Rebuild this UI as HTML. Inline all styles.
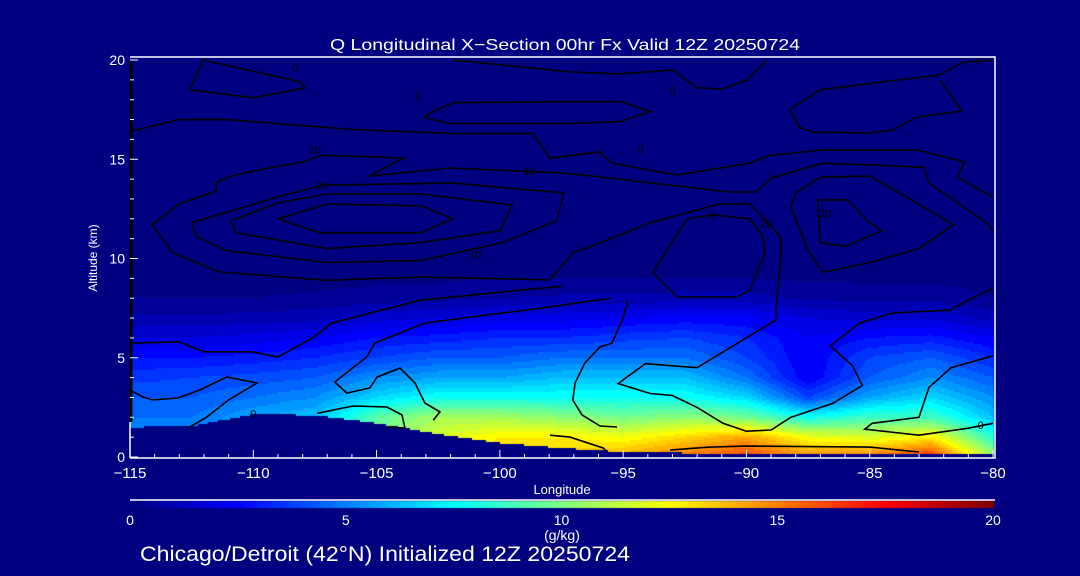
<!DOCTYPE html>
<html><head><meta charset="utf-8">
<style>
html,body{margin:0;padding:0;background:#000080;}
#wrap{position:relative;width:1080px;height:576px;background:#000080;overflow:hidden;font-family:"Liberation Sans",sans-serif;color:#fff;}
canvas{position:absolute;left:0;top:0;}
svg{position:absolute;left:0;top:0;}
</style></head>
<body>
<div id="wrap">
<canvas id="cv" width="1080" height="576"></canvas>
<svg id="sv" width="1080" height="576"></svg>
</div>
<script>
// ---- data ----
const lons = [-115,-112.5,-110,-107.5,-105,-102.5,-100,-97.5,-95,-92.5,-90,-87.5,-85,-82.5,-80];
const levels = [0,1,2,3,4,5,6,7,8,9,10,20];
const q_m115 = [5,5,5,4.5,3.8,3,2,1.1,0.5,0.3,0.2,0];
const q_m1125 = [5,5,5,4.5,4,3,2,1.1,0.5,0.3,0.2,0];
const q_m110 = [6,6,6,5,4.2,3.2,2.2,1.2,0.5,0.3,0.2,0];
const q_m1075 = [6.5,6.5,6.5,5.5,4.5,3.5,2.5,1.3,0.6,0.3,0.2,0];
const q_m105 = [10,10,9.5,7,5.5,4,3,1.8,0.7,0.4,0.2,0];
const q_m1025 = [12.5,12,11,8,6,4.5,3.2,2,0.8,0.4,0.2,0];
const q_m100 = [13.5,13,11,8,6,4.5,3.5,2.2,1,0.5,0.2,0];
const q_m975 = [14,13,10.5,8,6.5,5,3.5,2.3,1.1,0.5,0.2,0];
const q_m95 = [14.5,12.5,10,8,6.5,5,3.8,2.5,1.1,0.5,0.2,0];
const q_m925 = [15.5,13.5,10.5,8,6.5,5,4,2.7,1.2,0.5,0.2,0];
const q_m90 = [16.5,14.5,10,7,5,4,3.5,2.6,1.2,0.5,0.2,0];
const q_m875 = [15,12.5,8,4,2.5,2.5,2.5,2,0.9,0.4,0.2,0];
const q_m85 = [15.5,12,9,6,4.5,4,3,1.8,0.8,0.4,0.2,0];
const q_m825 = [17,13,9,7,5.5,4.5,3.2,1.9,0.8,0.4,0.2,0];
const q_m80 = [11,8.5,6.5,5.5,4.5,3.5,2.5,1.3,0.5,0.3,0.2,0];
const qGrid = [q_m115,q_m1125,q_m110,q_m1075,q_m105,q_m1025,q_m100,q_m975,q_m95,q_m925,q_m90,q_m875,q_m85,q_m825,q_m80];
const terrain = [1.5,1.55,2.15,2.1,1.7,1.15,0.7,0.45,0.25,0.2,0.2,0.2,0.2,0.2,0.15];
const xTicks = [-115,-110,-105,-100,-95,-90,-85,-80];
const yTicks = [0,5,10,15,20];
const cbTicks = [0,5,10,15,20];
// contour lines (lon, km)
const c1 = [[-109,12],[-107,12.75],[-103.2,12.65],[-101.9,12],[-103.2,11.3],[-107.3,11.3],[-109,12]];
const c2 = [[-110.9,11.9],[-109,12.8],[-107,13.25],[-103.2,13.25],[-99.5,12.7],[-100,11.4],[-103.2,10.8],[-107,10.5],[-110.7,11.3],[-110.9,11.9]];
const c3 = [[-112.5,11.8],[-109,13.1],[-107.2,13.7],[-101.9,13.8],[-97.4,13.3],[-97.7,11.9],[-99.9,10.8],[-103.2,9.9],[-107,9.8],[-111.1,10.4],[-112.3,11.1],[-112.5,11.8]];
const c4 = [[-90.7,13.35],[-96.6,14.2],[-97.4,14.3],[-102,14.56],[-105.3,14.15],[-103.9,15.06],[-107.2,15.2],[-108,14.86],[-109.4,14.56],[-110.9,14.15],[-111.5,13.85],[-111.5,13.4],[-113,12.75],[-114.1,11.7],[-113.26,10.28],[-111.35,9.32],[-107,8.9],[-103.24,9.07],[-97.97,8.92],[-97.04,10.28],[-95.94,10.78],[-93.9,11.8],[-91.1,12.75],[-89.86,12.75],[-88.6,11.1],[-88.6,10.1],[-88.8,7.4],[-88.8,6.9],[-92,4.5],[-94.1,4.7],[-95.2,3.7],[-93.9,3.2],[-93,3.1],[-92,2.5],[-90.95,1.7],[-90,1.3],[-89,1.36],[-88.2,2],[-86.5,2.7],[-85.3,3.6],[-85.7,4.6],[-86.6,5.6],[-85.4,6.75],[-84.1,7.25],[-81.75,7.4],[-81,7.9],[-80,8.5]];
const c5 = [[-90.7,13.35],[-89.6,13.35],[-89,14.05],[-86.9,14.8],[-82.8,14.6],[-82.6,13.8],[-80.25,11.8],[-80,11.4]];
const c6 = [[-87.1,12.95],[-85.9,12.95],[-85,11.8],[-84.5,11.4],[-86,10.6],[-87,10.8],[-87.1,12.95]];
const c7 = [[-88,13.3],[-87,14.1],[-85,14.15],[-83.5,13.1],[-81.6,11.7],[-83,10.5],[-85,9.8],[-86.9,9.3],[-87.5,10.4],[-88.2,12.6],[-88,13.3]];
const c8 = [[-93.8,9.3],[-92.4,12],[-91.36,12.2],[-89.86,12],[-89.33,11.1],[-89.25,10.3],[-89.86,8.4],[-90.4,8.06],[-92.8,8.06],[-93.8,9.3]];
const c9 = [[-115,16.4],[-113,17],[-111.07,17],[-106,16.5],[-101.9,16.3],[-98.66,16.3],[-97.97,15.06],[-95.94,15.37],[-95.45,14.8],[-92.8,14.2],[-89.86,14.8],[-89.05,15.2],[-86.9,15.47],[-83.09,15.47],[-81.14,14.86],[-81.46,14.1],[-80,13.1]];
const c10 = [[-112.04,20],[-108.1,18.9],[-107.9,18.6],[-110,18.1],[-112.57,18.5],[-112.04,20]];
const c11 = [[-80,20],[-81.2,19.9],[-82.15,19.25],[-84.46,18.9],[-87,18.5],[-88.24,17.5],[-87.83,16.6],[-87.3,16.37],[-85,16.32],[-84.06,16.47],[-83.09,17.13],[-81.26,17.43],[-82.15,19]];
const c12 = [[-101.9,20],[-97.16,19.4],[-95.13,19.3],[-92.98,19.5],[-92,18.6],[-90.95,18.54],[-89.98,19],[-89.17,20]];
const c13 = [[-103.1,17.1],[-102.7,17.4],[-101.9,17.85],[-97.2,17.9],[-95.1,17.9],[-93.9,17.4],[-95.1,16.9],[-97.2,16.8],[-102,16.8],[-103.1,17.1]];
const c14 = [[-115,5.74],[-113,5.8],[-112,5.3],[-110.05,5.3],[-109,5.04],[-107.6,6],[-106.8,6.75],[-105.1,7.3],[-103.2,7.9],[-100,8.3],[-97.5,8.6]];
const c15 = [[-115,3.38],[-114.47,3.02],[-114.07,2.87],[-113.05,2.97],[-112.16,3.38],[-111.07,4.03],[-109.85,3.73],[-111,2.87],[-111.9,2],[-112.6,1.5]];
const c16 = [[-102.7,1.85],[-102.43,2.27],[-103.04,2.72],[-103.44,3.73],[-104.05,4.48],[-104.98,4.03],[-105.27,3.48],[-106.2,3.22],[-106.7,3.78],[-105.4,5.04],[-105.07,5.74],[-103.04,6.75],[-97.97,7.56],[-95.5,8]];
const c17 = [[-107.4,2.2],[-105.96,2.57],[-104.58,2.52],[-103.97,2.12],[-103.85,1.46],[-104.58,1.51]];
const c18 = [[-94.8,7.9],[-95,7],[-95.45,5.74],[-95.94,5.54],[-96.55,4.74],[-96.95,3.73],[-97.04,2.87],[-96.67,2.12],[-95.94,1.56],[-95.25,1.51]];
const c19 = [[-97.97,1.1],[-97.16,1],[-95.8,0.45],[-95.66,0.25]];
const c20 = [[-93.1,0.35],[-91.48,0.5],[-90,0.55],[-85,0.5],[-83,0.25]];
const c21 = [[-80,1.7],[-81,1.45],[-83,1.1],[-85.2,1.4],[-84.9,1.7],[-83,2],[-82.6,3.5],[-81.7,4.5],[-80,5.1]];
const contours = [c1,c2,c3,c4,c5,c6,c7,c8,c9,c10,c11,c12,c13,c14,c15,c16,c17,c18,c19,c20,c21];
const labels = [["0",-108.3,19.6],["0",-103.3,18.2],["10",-107.5,15.5],["20",-107.2,13.7],["10",-101,10.2],["0",-93,18.5],["10",-98.8,14.4],["0",-94.3,15.5],["0",-91.4,12.2],["20",-89.2,11.8],["20",-86.8,12.3],["0",-80.6,20],["0",-80.5,1.6],["0",-115,3.2],["0",-110,2.2]];

// ---- axes ----
const X0=130, X1=993, Y0=457, Y1=60;
const xs = l => X0 + (l - (-115)) / 35 * (X1 - X0);
const ys = a => Y0 - a / 20 * (Y0 - Y1);
function jet(v){
  const t=Math.max(0,Math.min(1,v/20));
  const c=u=>Math.round(255*Math.max(0,Math.min(1,u)));
  return [c(1.5-Math.abs(4*t-3)), c(1.5-Math.abs(4*t-2)), c(1.5-Math.abs(4*t-1))];
}
function colInterp(arr, lon){
  let i=Math.min(lons.length-2, Math.max(0, Math.floor((lon-lons[0])/2.5)));
  const f=(lon-lons[i])/2.5;
  return [arr[i], arr[i+1], f];
}
function value(lon, alt){
  const [a,b,f]=colInterp(qGrid, lon);
  let k=0; while(k<levels.length-2 && alt>levels[k+1]) k++;
  const g=(alt-levels[k])/(levels[k+1]-levels[k]);
  const va=a[k]+(a[k+1]-a[k])*g, vb=b[k]+(b[k+1]-b[k])*g;
  return va+(vb-va)*f;
}
function terr(lon){
  const [a,b,f]=colInterp(terrain, lon);
  return a+(b-a)*f;
}
// ---- heatmap cells ----
const ctx=document.getElementById('cv').getContext('2d');
ctx.fillStyle='#000080'; ctx.fillRect(0,0,1080,576);
for(let px=X0; px<X1; px+=2){
  const lon=-115+(px+1-X0)/(X1-X0)*35;
  const tz=terr(lon);
  for(let py=Y1; py<Y0; py+=2){
    const alt=(Y0-(py+1))/(Y0-Y1)*20;
    let v = alt<tz ? 0 : value(lon,alt);
    v=Math.floor(v*2)/2;
    const [r,g,b]=jet(v);
    ctx.fillStyle=`rgb(${r},${g},${b})`;
    ctx.fillRect(px,py,2,2);
  }
}
// colorbar
for(let px=X0; px<=X1; px++){
  const [r,g,b]=jet((px-X0)/(X1-X0)*20);
  ctx.fillStyle=`rgb(${r},${g},${b})`;
  ctx.fillRect(px,501,1,7);
}
// ---- svg ----
const NS='http://www.w3.org/2000/svg';
const sv=document.getElementById('sv');
function mk(tag, attrs){const e=document.createElementNS(NS,tag); for(const k in attrs) e.setAttribute(k,attrs[k]); sv.appendChild(e); return e;}
contours.forEach((c,i)=>{
  const p=mk('polyline',{points:c.map(q=>xs(q[0]).toFixed(1)+','+ys(q[1]).toFixed(1)).join(' '),fill:'none',stroke:'#000',"stroke-width":1.6});
  
  
});
labels.forEach(l=>{
  const t=mk('text',{x:xs(l[1]),y:ys(l[2])+4,fill:'#000',"font-size":11,"text-anchor":"middle"});
  t.textContent=l[0];
  
  
});
// left black edge
const le=mk('line',{x1:131,y1:Y1,x2:131,y2:422,stroke:'#000',"stroke-width":3});


// frame
const fr=mk('path',{d:`M${X0} ${Y0+1} H${X1+2} V57 H${X0} M${X0} 422 V${Y0+1}`,fill:'none',stroke:'#fff',"stroke-width":1.5});


for(let l=-115;l<=-80;l++){
  const major=xTicks.includes(l);
  const t=mk('line',{x1:xs(l),x2:xs(l),y1:Y0+1,y2:Y0+1-(major?8:4),stroke:'#fff',"stroke-width":1});
  
  
}
for(let a=0;a<=20;a++){
  const major=yTicks.includes(a);
  const t=mk('line',{x1:X0,x2:X0+(major?8:4),y1:ys(a),y2:ys(a),stroke:'#fff',"stroke-width":1});
  
  
}
xTicks.forEach(l=>{
  const t=mk('text',{x:xs(l),y:478,fill:'#fff',"font-size":15,"text-anchor":"middle"});
  t.textContent=(l<0?'\u2212'+(-l):l);
  
  
});
yTicks.forEach(a=>{
  const t=mk('text',{x:125,y:ys(a)+5,fill:'#fff',"font-size":14,"text-anchor":"end"});
  t.textContent=a;
  
  
});
cbTicks.forEach(v=>{
  const t=mk('text',{x:X0+v/20*(X1-X0),y:525,fill:'#fff',"font-size":14,"text-anchor":"middle"});
  t.textContent=v;
  
  
});
const cbl=mk('line',{x1:X0,x2:X1+2,y1:500,y2:500,stroke:'#fff',"stroke-width":1.5});


function txt(s,x,y,size,name,extra){
  const t=mk('text',Object.assign({x:x,y:y,fill:'#fff',"font-size":size,"text-anchor":"middle"},extra||{}));
  t.textContent=s;
  return t;
}
let t;
t=txt('Q Longitudinal X\u2212Section 00hr  Fx Valid 12Z 20250724',565,50,16,null,{"textLength":470,"lengthAdjust":"spacingAndGlyphs"}); t.setAttribute('xml:space','preserve');


t=txt('Longitude',562,494,13);


t=txt('Altitude (km)',0,0,12,null,{transform:'translate(97,258) rotate(-90)'});


t=txt('(g/kg)',562,540,14);


t=txt('Chicago/Detroit (42\u00b0N) Initialized 12Z 20250724',140,561,21,null,{"text-anchor":"start","textLength":490,"lengthAdjust":"spacingAndGlyphs"});


</script>
</body></html>
